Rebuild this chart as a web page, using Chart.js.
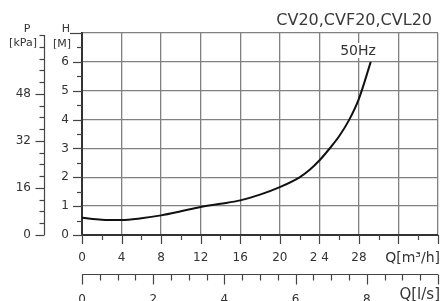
<!DOCTYPE html>
<html>
<head>
<meta charset="utf-8">
<script src="https://cdn.jsdelivr.net/npm/chart.js@4"></script>
<style>
  body { margin: 0; background: #fff; }
</style>
</head>
<body>
<canvas id="pumpChart" width="441" height="301"></canvas>
<script>
// pump curve: flow in m3/h, head in m
const flowM3h = [0, 2, 4, 6, 8, 10, 12, 14, 16, 18, 20, 22, 23, 24, 25, 26, 27, 28, 29.2]
const headM = [0.6, 0.53, 0.52, 0.58, 0.68, 0.82, 0.97, 1.08, 1.2, 1.4, 1.66, 2.0, 2.25, 2.58, 2.98, 3.42, 3.98, 4.72, 6.0]

const headTicks = [0, 1, 2, 3, 4, 5, 6]
const pressureTicks = [0, 16, 32, 48]
const flowTicks = [0, 4, 8, 12, 16, 20, 24, 28]
const flowTickLabels = ['0', '4', '8', '12', '16', '20', '2 4', '28']
const litreTicks = [0, 2, 4, 6, 8]

const title = 'CV20,CVF20,CVL20'
const curveLabel = '50Hz'

const FONT = '"DejaVu Sans", sans-serif'
const INK = '#333'

function line(ctx, x1, y1, x2, y2) {
  ctx.beginPath()
  ctx.moveTo(x1, y1)
  ctx.lineTo(x2, y2)
  ctx.stroke()
}

const pumpAxes = {
  id: 'pumpAxes',
  afterDraw(chart) {
    const ctx = chart.ctx
    const {x, y, xls, ykpa} = chart.scales
    const area = chart.chartArea
    ctx.save()
    ctx.strokeStyle = '#444'
    ctx.lineWidth = 1.2
    ctx.fillStyle = INK

    // H axis ticks on the plot's left edge
    for (let v = 0; v <= 7; v += 0.5) {
      const py = Math.round(y.getPixelForValue(v)) + 0.5
      const len = v === 7 ? 12 : (v % 1 === 0 ? 9 : 5)
      line(ctx, area.left - len, py, area.left, py)
    }
    ctx.font = '12px ' + FONT
    ctx.textAlign = 'right'
    ctx.textBaseline = 'middle'
    for (const v of headTicks) ctx.fillText(String(v), 69, y.getPixelForValue(v))
    ctx.font = '11px ' + FONT
    ctx.textAlign = 'center'
    ctx.fillText('H', 66, 29)
    ctx.fillText('[M]', 62, 44)

    // P axis (kPa)
    const pAxisX = 44.5
    line(ctx, pAxisX, ykpa.getPixelForValue(0), pAxisX, ykpa.getPixelForValue(68))
    for (let v = 0; v <= 68; v += 4) {
      const py = Math.round(ykpa.getPixelForValue(v)) + 0.5
      const len = pressureTicks.includes(v) ? 9 : 5
      line(ctx, pAxisX - len, py, pAxisX, py)
    }
    ctx.font = '12px ' + FONT
    ctx.textAlign = 'right'
    for (const v of pressureTicks) ctx.fillText(String(v), 31, ykpa.getPixelForValue(v))
    ctx.font = '11px ' + FONT
    ctx.textAlign = 'center'
    ctx.fillText('P', 27, 29)
    ctx.fillText('[kPa]', 23, 43)

    // Q m3/h ticks below the plot
    for (let v = 0; v <= 36; v += 2) {
      const px = Math.round(x.getPixelForValue(v)) + 0.5
      const len = v % 4 === 0 ? 9 : 5
      line(ctx, px, area.bottom, px, area.bottom + len)
    }
    ctx.font = '12px ' + FONT
    ctx.textAlign = 'center'
    ctx.textBaseline = 'middle'
    flowTicks.forEach((v, i) => ctx.fillText(flowTickLabels[i], x.getPixelForValue(v), 258))
    ctx.font = '14px ' + FONT
    ctx.textAlign = 'right'
    ctx.fillText('Q[m\u00b3/h]', 440, 258)

    // Q l/s axis
    const lsY = 274.5
    line(ctx, xls.getPixelForValue(0), lsY, xls.getPixelForValue(10), lsY)
    for (let v = 0; v <= 10; v += 0.5) {
      const px = Math.round(xls.getPixelForValue(v)) + 0.5
      const len = v % 2 === 0 ? 10 : 6
      line(ctx, px, lsY, px, lsY + len)
    }
    ctx.font = '12px ' + FONT
    ctx.textAlign = 'center'
    ctx.textBaseline = 'top'
    for (const v of litreTicks) ctx.fillText(String(v), xls.getPixelForValue(v), 294)
    ctx.font = '15px ' + FONT
    ctx.textAlign = 'right'
    ctx.fillText('Q[l/s]', 440, 288)

    // title and curve label
    ctx.font = '16px ' + FONT
    ctx.textAlign = 'right'
    ctx.textBaseline = 'middle'
    ctx.fillStyle = '#3a3a3a'
    ctx.fillText(title, 432, 21)
    ctx.font = '14px ' + FONT
    ctx.textAlign = 'center'
    const w = ctx.measureText(curveLabel).width
    ctx.fillStyle = '#fff'
    ctx.fillRect(358 - w / 2 - 2, 43, w + 4, 15)
    ctx.fillStyle = INK
    ctx.fillText(curveLabel, 358, 51)
    ctx.restore()
  }
}

const gridStyle = {color: '#808080', lineWidth: 1.3, drawTicks: false}
const borderStyle = {display: true, color: '#333', width: 2}

new Chart(document.getElementById('pumpChart'), {
  type: 'line',
  data: {
    datasets: [{
      data: flowM3h.map((q, i) => ({x: q, y: headM[i]})),
      borderColor: '#111',
      borderWidth: 2,
      pointRadius: 0,
      cubicInterpolationMode: 'monotone',
      xAxisID: 'x',
      yAxisID: 'y'
    }]
  },
  options: {
    responsive: false,
    devicePixelRatio: 1,
    animation: false,
    layout: {padding: {left: 82, right: 3, top: 33, bottom: 66}},
    plugins: {legend: {display: false}, tooltip: {enabled: false}},
    scales: {
      x: {
        type: 'linear', min: 0, max: 36,
        ticks: {display: false, stepSize: 4},
        grid: gridStyle, border: borderStyle,
        afterFit(s) { s.height = 0 }
      },
      y: {
        type: 'linear', min: 0, max: 7,
        ticks: {display: false, stepSize: 1},
        grid: gridStyle, border: borderStyle,
        afterFit(s) { s.width = 0 }
      },
      xls: {type: 'linear', display: false, min: 0, max: 10, position: 'bottom'},
      ykpa: {type: 'linear', display: false, min: 0, max: 7 * 9.81, position: 'left'}
    }
  },
  plugins: [pumpAxes]
})
</script>
</body>
</html>
